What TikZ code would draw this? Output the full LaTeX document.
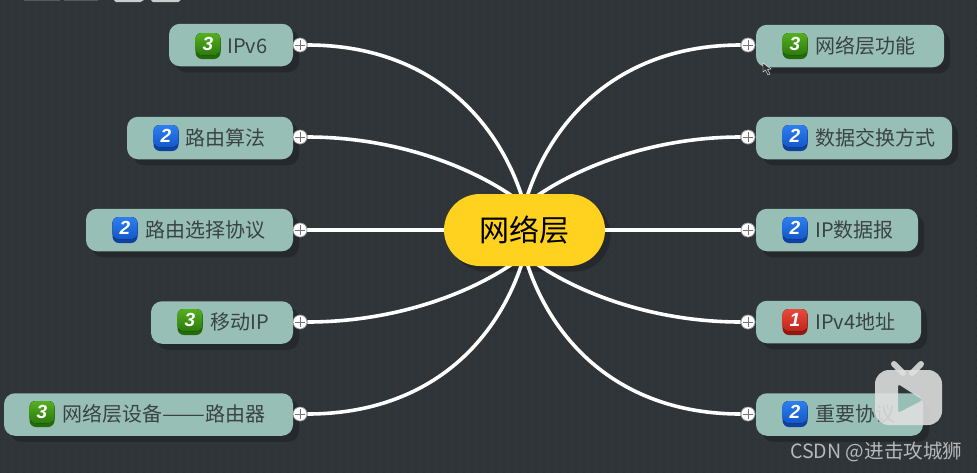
\documentclass[tikz,border=0pt]{standalone}
\usepackage{graphicx}
\usepackage{fontspec}
\setmainfont{Noto Sans CJK SC}
\newfontfamily\badgefont{Liberation Sans}
\usetikzlibrary{shadows,patterns.meta}
\definecolor{bgc}{HTML}{2F3538}
\definecolor{dotc}{HTML}{283033}
\definecolor{leafc}{HTML}{98BFB6}
\definecolor{shadowc}{HTML}{25292B}
\definecolor{txtc}{HTML}{3A4341}
\definecolor{hubc}{HTML}{FFD21F}
\definecolor{gTop}{HTML}{55B01E}\definecolor{gBot}{HTML}{2C7A0E}\definecolor{gEdge}{HTML}{236A0A}
\definecolor{bTop}{HTML}{2E7FF0}\definecolor{bBot}{HTML}{1458C8}\definecolor{bEdge}{HTML}{0E429C}
\definecolor{rTop}{HTML}{E84A3C}\definecolor{rBot}{HTML}{C0241C}\definecolor{rEdge}{HTML}{8E1A14}
\tikzset{
  x=1pt,y=-1pt,
  leaf/.style={rounded corners=11pt,fill=leafc,minimum height=42.5pt,inner sep=0pt,
     drop shadow={shadow xshift=6pt,shadow yshift=-6pt,fill=shadowc,opacity=1}},
  hubshape/.style={rounded corners=36pt,minimum width=161pt,minimum height=72pt,inner sep=0pt},
  hub/.style={hubshape,fill=hubc,font=\fontsize{30}{35}\selectfont,text=black},
  lbl/.style={anchor=west,inner sep=0pt,text=txtc,font=\fontsize{20}{24}\selectfont},
  knob/.style={circle,fill=white,draw=black!45,line width=.6pt,minimum size=14pt,inner sep=0pt},
  wire/.style={white,line width=3.6pt},
  badgebase/.style={rounded corners=6.5pt,minimum width=25pt,minimum height=26pt,inner sep=0pt},
}
\newcommand{\mybadge}[5]{% name,x,y,colourstem,num
  \node[badgebase,fill=#4Edge] (#1) at (#2,#3) {};
  \fill[top color=#4Top,bottom color=#4Bot,rounded corners=6pt] (#2-12.5,#3-13) rectangle (#2+12.5,#3+9);
  \node[inner sep=0pt,text=white,font=\badgefont\bfseries\itshape\fontsize{19}{20}\selectfont] at (#2,#3-2) {#5};
}
\begin{document}
\begin{tikzpicture}
\useasboundingbox (0,0) rectangle (977,472);
\fill[bgc] (-6,-6) rectangle (983,478);
\fill[pattern={Dots[distance=8pt,radius=.9pt]},pattern color=dotc] (-6,-6) rectangle (983,478);

% cropped title fragment at the top edge
\fill[black!5,opacity=.2] (24,-1) rectangle (60,.8);
\fill[black!5,opacity=.2] (64,-1) rectangle (98,.8);
\fill[black!5,opacity=.8] (113,-1) -- (146,-1) -- (140,2.2) -- (116,2.2) -- cycle;
\fill[black!5,opacity=.8] (150,-1) -- (182,-1) -- (178,2.2) -- (153,2.2) -- cycle;

\coordinate (hubc) at (524.5,230);
\coordinate (hubt) at (524.5,205);
\coordinate (hubb) at (524.5,255);
\node[hubshape,fill=shadowc] (hubsh) at (530,235.5) {};
% knobs
\node[knob] (kl1) at (300,45) {};
\node[knob] (kl2) at (300,137) {};
\node[knob] (kl3) at (300,230) {};
\node[knob] (kl4) at (300,322) {};
\node[knob] (kl5) at (300,414) {};
\node[knob] (kr1) at (748,45) {};
\node[knob] (kr2) at (748,137) {};
\node[knob] (kr3) at (748,230) {};
\node[knob] (kr4) at (748,322) {};
\node[knob] (kr5) at (748,414) {};

% wires
\draw[wire] (kl1.east) .. controls (430,45) and (500,120) .. (hubt);
\draw[wire] (kl2.east) .. controls (400,137) and (480,170) .. (hubt);
\draw[wire] (kl3.east) -- (hubc);
\draw[wire] (kl4.east) .. controls (400,322) and (480,290) .. (hubb);
\draw[wire] (kl5.east) .. controls (430,414) and (500,340) .. (hubb);
\draw[wire] (kr1.west) .. controls (619,45) and (549,120) .. (hubt);
\draw[wire] (kr2.west) .. controls (649,137) and (569,170) .. (hubt);
\draw[wire] (kr3.west) -- (hubc);
\draw[wire] (kr4.west) .. controls (649,322) and (569,290) .. (hubb);
\draw[wire] (kr5.west) .. controls (619,414) and (549,340) .. (hubb);

\node[hub] (hub) at (hubc) {网络层};

% left leaves
\node[leaf,minimum width=124pt] (a1) at (231,45) {};
\node[leaf,minimum width=166pt] (a2) at (210,138) {};
\node[leaf,minimum width=207pt] (a3) at (189.5,230) {};
\node[leaf,minimum width=142pt] (a4) at (222,322.5) {};
\node[leaf,minimum width=289pt] (a5) at (148.5,414.5) {};
% right leaves
\node[leaf,minimum width=188pt] (b1) at (850,46) {};
\node[leaf,minimum width=196pt] (b2) at (854,138) {};
\node[leaf,minimum width=162pt] (b3) at (837,230) {};
\node[leaf,minimum width=165pt] (b4) at (838.5,322) {};
\node[leaf,minimum width=167pt] (b5) at (839.5,414.5) {};

% knobs sit over leaf edges
\foreach \k in {kl1,kl2,kl3,kl4,kl5,kr1,kr2,kr3,kr4,kr5}{
  \node[knob] at (\k) {};
  \draw[black!55,line width=1pt] ([xshift=-5pt]\k.center) -- ([xshift=5pt]\k.center)
     ([yshift=-5pt]\k.center) -- ([yshift=5pt]\k.center);
}

% badges and labels
\mybadge{ba1}{208}{46}{g}{3}   \node[lbl] (ta1) at (227,46) {IPv6};
\mybadge{ba2}{166}{138}{b}{2}  \node[lbl] (ta2) at (185,138) {路由算法};
\mybadge{ba3}{125}{230}{b}{2}  \node[lbl] (ta3) at (145,230) {路由选择协议};
\mybadge{ba4}{190}{322}{g}{3}  \node[lbl] (ta4) at (210,322) {移动IP};
\mybadge{ba5}{42}{414}{g}{3}   \node[lbl] (ta5) at (62,414) {网络层设备\scalebox{1.28}[1]{——}路由器};
\mybadge{bb1}{795}{46}{g}{3}   \node[lbl] (tb1) at (815,46) {网络层功能};
\mybadge{bb2}{795}{138}{b}{2}  \node[lbl] (tb2) at (815,138) {数据交换方式};
\mybadge{bb3}{795}{230}{b}{2}  \node[lbl] (tb3) at (815,230) {IP数据报};
\mybadge{bb4}{795}{322}{r}{1}  \node[lbl] (tb4) at (815,322) {IPv4地址};
\mybadge{bb5}{795}{414}{b}{2}  \node[lbl] (tb5) at (815,414) {重要协议};

% mouse cursor
\fill[black!80,draw=white,line width=.4pt] (763,63) -- (763,72) -- (765.5,70) -- (768,75) -- (770,74) -- (767.5,69.5) -- (771,69) -- cycle;

% video logo watermark
\begin{scope}[opacity=.88]
\draw[line width=6pt,line cap=round,black!12] (894,364) -- (903,373);
\draw[line width=6pt,line cap=round,black!12] (921,364) -- (912,373);
\fill[black!12,even odd rule]
  (889,370) -- (928,370) arc[start angle=-90,end angle=0,radius=14] -- (942,411)
  arc[start angle=0,end angle=90,radius=14] -- (889,425)
  arc[start angle=90,end angle=180,radius=14] -- (875,384)
  arc[start angle=180,end angle=270,radius=14] -- cycle
  [rounded corners=2.5pt] (898,384) -- (923,400) -- (898,413) -- cycle;
\end{scope}

% site watermark
\node[inner sep=0pt,anchor=west,text=black!28,font=\fontsize{19.6}{22}\selectfont] (wm) at (790,452) {CSDN @进击攻城狮};
\end{tikzpicture}
\end{document}
